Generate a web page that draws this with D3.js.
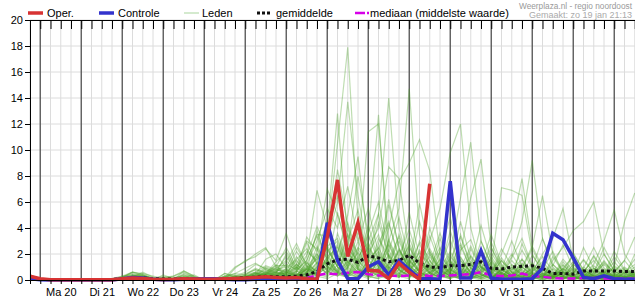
<!DOCTYPE html>
<html><head><meta charset="utf-8">
<script src="https://cdn.jsdelivr.net/npm/d3@7"></script>
<style>body{margin:0;background:#fff}svg{display:block}text{font-family:"Liberation Sans",Arial,sans-serif}</style>
</head><body>
<svg id="c" width="635" height="300"></svg>
<script>
// ---- data ----
const startTime = Date.UTC(2025, 0, 19, 18); // first value: zo 19 jan 18:00
const stepHours = 6;
const dayLabels = ["Ma 20","Di 21","Wo 22","Do 23","Vr 24","Za 25","Zo 26","Ma 27","Di 28","Wo 29","Do 30","Vr 31","Za 1","Zo 2"];
const yTicks = [0,2,4,6,8,10,12,14,16,18,20];
const legendLabels = ["Oper.","Controle","Leden","gemiddelde","mediaan (middelste waarde)"];
const sourceText = "Weerplaza.nl - regio noordoost";
const madeText = "Gemaakt: zo 19 jan 21:13";

const oper = [0.3,0.1,0.02,0.02,0.02, 0.02,0.02,0.02,0.02,0.1, 0.15,0.12,0.05,0.03,0.05, 0.1,0.08,0.05,0.05,0.1,
  0.12,0.15,0.2,0.25,0.2, 0.15,0.2,0.1,0.05,3.3, 7.7,1.8,4.4,0.75,0.7, 0.1,1.3,0.6,0.05,7.4];
const controle = [0.1,0.02,0,0,0, 0,0,0,0,0.1, 0.2,0.15,0.05,0.02,0.02, 0.05,0.08,0.1,0.1,0.05,
  0.02,0.02,0.05,0.05,0.1, 0.1,0.05,0.05,0.05,4.4, 1.5,0.1,0.1,1.0,1.4, 0.4,1.5,0.8,0.1,0.1,
  0.05,7.6,0.15,0.15,2.25, 0.15,0.05,0.05,0.05,0.1, 0.9,3.6,3.1,1.7,0.2, 0.1,0.33,0.1,0.05,0.05];
const gemiddelde = [0.15,0.05,0.03,0.03,0.03, 0.03,0.03,0.03,0.05,0.1, 0.15,0.15,0.1,0.08,0.08, 0.1,0.08,0.05,0.05,0.08,
  0.12,0.18,0.22,0.28,0.25, 0.25,0.3,0.4,0.65,1.25, 1.55,1.6,1.35,1.85,1.7, 1.4,1.5,1.9,1.3,1.0,
  0.95,1.1,1.1,1.2,1.4, 0.9,0.85,1.0,1.05,1.1, 0.9,0.5,0.5,0.45,0.7, 0.7,0.7,0.7,0.65,0.65];
const mediaan = [0.05,0.02,0.01,0.01,0.01, 0.01,0.01,0.01,0.01,0.03, 0.05,0.05,0.03,0.02,0.02, 0.03,0.02,0.01,0.01,0.02,
  0.03,0.04,0.05,0.06,0.06, 0.08,0.1,0.15,0.35,0.5, 0.45,0.55,0.62,0.45,0.35, 0.35,0.3,0.35,0.4,0.3,
  0.3,0.35,0.4,0.45,0.6, 0.35,0.3,0.35,0.5,0.3, 0.25,0.15,0.12,0.12,0.15, 0.15,0.12,0.1,0.12,0.1];
const leden = [
 [0.3,0,0,0,0, 0,0,0,0,0.1, 0.3,0.2,0,0,0, 0,0,0,0,0, 0,0.2,0.5,0.3,0.6, 1.2,0.8,1.5,3.5,3.4, 10.5,17.9,4.5,1.0,0.5, 2.0,0.8,0.3,0.5,1.2, 0.4,0.2,0.8,0.3,0.1, 0,0.5,1.5,0.6,0.2, 0,0.3,0.8,0.2,0, 0.1,0.6,0.3,0,0.2],
 [0.2,0,0,0,0, 0,0,0,0,0.1, 0.2,0.6,0.2,0,0, 0.1,0,0,0,0, 0,0.1,0.3,0.9,0.6, 0.5,1.0,2.2,1.5,3.0, 6.0,13.7,6.5,2.0,3.5, 1.0,0.4,2.5,1.2,0.6, 0.3,1.8,0.9,0.4,2.2, 0.5,0.2,0.8,1.6,0.4, 0.1,0.6,0.3,1.2,0.5, 0,0.2,0.7,0.2,0.1],
 [0.3,0,0,0,0, 0,0,0,0.1,0.3, 0.4,0.2,0,0.4,0.1, 0,0,0,0,0.1, 0.3,0.2,0.5,0.4,1.2, 0.2,0.6,1.8,6.9,4.0, 12.8,3.0,1.2,0.5,2.8, 4.5,1.5,0.6,0.2,1.0, 2.5,0.8,0.3,0.1,0.6, 1.4,0.5,0.2,0,0.4, 1.0,0.3,0.1,0,0.5, 1.8,0.6,0.2,0.4,1.0],
 [0.1,0,0,0,0, 0,0,0,0,0, 0.3,0.5,0.3,0.1,0, 0.7,0.3,0,0,0, 0.1,0.3,0.2,0.6,0.3, 0.3,0.1,0.5,1.2,2.5, 1.0,3.5,2.0,11.4,12.0, 3.0,1.2,0.5,3.0,1.5, 0.4,0.2,1.5,0.6,0.2, 0.1,0.8,2.0,0.7,0.3, 0,0.2,1.1,0.4,0.1, 0,0.3,0.9,0.3,0],
 [0.3,0.1,0,0,0, 0,0,0,0,0.2, 0.6,0.4,0,0,0.2, 0.3,0.1,0,0,0.5, 0.2,0,0.4,1.0,0.7, 0.8,0.4,1.0,2.0,0.6, 1.5,4.0,1.0,3.5,12.7, 1.5,0.8,2.0,0.6,0.3, 1.2,0.4,0.1,0.9,2.4, 0.7,0.2,0,0.5,1.3, 0.4,0.1,0.6,0.2,0, 0.4,1.5,0.5,0.1,0.3],
 [0,0,0,0,0, 0,0,0,0,0.1, 0.2,0.1,0,0,0, 0,0,0,0,0, 0,0.2,0.1,0.3,0.2, 0.1,0.5,0.2,1.0,2.2, 3.0,1.2,2.5,1.8,5.0, 14.0,4.0,1.0,0.5,2.0, 0.8,0.3,3.5,1.2,0.4, 0.1,0.3,1.0,0.4,0.2, 0.8,2.2,0.6,0.2,0, 0.5,0.2,0,0.6,1.2],
 [0.2,0,0,0,0, 0,0,0,0,0, 0.1,0.3,0.2,0,0, 0,0,0,0,0.2, 0.5,0.9,1.3,0.8,0.5, 0.4,0.2,0.9,0.5,1.5, 0.8,2.0,4.2,1.0,0.6, 3.0,5.5,14.7,3.5,1.0, 0.4,1.5,0.6,0.2,0.8, 2.5,1.0,0.3,0.1,0, 0.4,1.2,0.5,0.1,0.8, 0.3,0,0.2,0.9,0.4],
 [0.1,0,0,0,0, 0,0,0,0,0, 0.2,0.4,0.1,0,0, 0.2,0.1,0,0,0, 0,0,0.3,0.5,0.4, 0.2,0.7,0.3,1.4,0.8, 2.8,1.0,0.5,2.2,1.0, 4.0,7.6,9.0,10.8,8.4, 2.0,0.7,1.8,0.5,0.2, 0.9,0.3,0.1,1.6,0.6, 0.2,0,0.3,1.0,0.4, 0.1,0.5,1.4,0.5,0.2],
 [0.2,0,0,0,0, 0,0,0,0,0.1, 0.3,0.2,0.1,0.3,0.1, 0,0,0,0,0, 0.2,0.4,0.6,0.3,0.4, 0.6,0.3,1.1,0.4,1.8, 2.5,0.9,3.0,1.2,0.5, 0.8,2.2,0.6,1.0,3.0, 5.5,9.8,12.0,4.0,1.0, 0.4,1.5,0.6,0.2,1.0, 0.3,0.1,0.7,2.0,0.8, 0.3,0,0.4,0.2,0.6],
 [0,0,0,0,0, 0,0,0,0,0, 0.1,0,0,0,0, 0,0,0,0,0, 0.1,0,0.2,0.5,0.3, 0.3,1.2,0.5,2.6,1.0, 0.7,2.4,1.5,0.6,3.2, 1.8,0.5,1.2,2.8,1.0, 0.5,2.0,6.3,10.6,3.0, 1.2,0.4,0.1,0.9,2.4, 0.8,0.3,0.1,0.5,1.6, 0.6,0.2,0,0.3,0.8],
 [0.3,0,0,0,0, 0,0,0,0,0.2, 0.4,0.3,0,0.2,0, 0,0,0,0,0, 0,0.1,0,0.2,0.1, 0,0.4,0.2,1.0,2.0, 0.6,1.5,0.8,2.6,1.2, 0.4,1.0,3.3,1.0,0.5, 1.6,0.6,2.0,6.3,9.3, 2.5,0.8,0.3,0.1,1.2, 0.5,0.2,0.9,0.3,0, 0.6,2.0,0.7,0.2,0.1],
 [0.1,0,0,0,0, 0,0,0,0,0, 0.2,0.1,0,0,0.1, 0.4,0.2,0,0,0.3, 0.2,0.1,0.3,0.2,0.5, 0.5,0.2,0.6,1.3,0.4, 1.9,0.7,0.3,1.4,2.5, 0.9,0.3,0.8,1.6,0.5, 0.2,1.0,2.8,0.9,0.4, 0.1,0.6,1.8,4.5,9.2, 3.2,1.0,0.3,0.1,0.7, 1.5,0.5,0.2,0,0.4],
 [0.2,0,0,0,0, 0,0,0,0,0.1, 0.3,0.2,0,0,0, 0,0,0,0,0.1, 0.2,0.1,0.2,0.4,0.6, 0.2,0.9,0.3,0.6,1.6, 0.5,2.8,1.0,0.4,0.9, 2.3,0.8,0.3,0.6,1.8, 0.7,0.3,1.1,0.4,1.5, 0.5,2.0,4.0,7.8,2.5, 6.5,2.0,0.6,0.2,1.0, 0.4,0.1,0.6,1.5,0.5],
 [0,0,0,0,0, 0,0,0,0,0, 0.2,0.1,0,0,0, 0.5,0.2,0,0,0, 0,0,0.1,0.2,0.1, 0.1,0.3,0.8,0.3,1.1, 0.4,0.2,1.6,0.5,0.2, 1.0,0.4,2.0,0.7,0.3, 1.3,0.5,0.2,0.8,2.2, 1.0,7.1,6.9,6.5,2.0, 0.6,0.2,0.9,0.3,0.1, 0.5,1.2,0.4,0.1,0.2],
 [0.2,0,0,0,0, 0,0,0,0,0, 0.2,0.2,0,0,0, 0,0,0,0,0, 0,0.3,0.4,0.8,0.5, 0.7,0.3,1.4,0.5,0.2, 1.2,3.5,0.8,0.3,1.5, 0.6,2.4,0.9,0.3,0.6, 1.0,0.4,0.2,1.4,0.5, 0.1,0.8,0.3,1.0,0.4, 0.2,1.5,2.5,3.8,4.5, 6.0,2.0,0.7,0.3,0.1],
 [0.1,0,0,0,0, 0,0,0,0,0, 0,0.1,0,0,0, 0,0,0,0,0.3, 0.4,0.2,0.3,0.4,0.9, 0.3,0.1,0.5,1.8,0.7, 0.3,1.0,2.1,0.8,0.3, 1.3,0.5,0.2,0.9,2.2, 0.8,0.3,0.1,0.6,1.1, 0.4,0.2,1.2,0.5,0.2, 0.8,0.3,0.1,0.5,1.5, 0.6,2.5,1.0,4.5,6.7],
 [0,0,0,0,0, 0,0,0,0,0, 0.1,0.2,0,0,0, 0,0,0,0,0.1, 0.3,0.2,0.6,0.4,0.3, 0.9,0.4,0.2,0.8,2.4, 1.0,0.4,0.2,1.6,0.7, 0.3,1.1,0.5,1.8,0.6, 0.2,0.9,0.4,0.1,0.7, 1.6,0.5,0.2,0.1,0.6, 2.0,3.2,5.5,1.5,0.5, 1.2,3.0,5.4,2.0,0.8],
 [0.2,0,0,0,0, 0,0,0,0,0, 0.1,0,0,0,0, 0,0,0,0,0, 0.9,1.5,1.8,2.4,1.5, 3.6,1.2,0.6,2.0,1.0, 0.5,1.4,0.6,0.2,0.9, 0.4,1.7,0.6,0.2,0.5, 1.2,0.4,0.1,0.3,1.0, 0.4,0.1,0.5,0.2,0, 0.3,0.8,0.3,0.1,0.4, 0.2,0,0.1,0.5,0.2],
 [0.1,0,0,0,0, 0,0,0,0,0, 0,0,0,0.2,0.3, 0.6,0.2,0,0,0.2, 1.0,1.4,2.0,2.5,1.0, 0.6,2.2,1.0,0.4,1.8, 0.7,0.3,1.2,2.8,1.0, 0.4,0.2,1.5,0.6,0.2, 0.8,2.2,0.7,0.3,0.1, 0.6,0.3,0.9,0.3,0.1, 0.5,0.2,0,0.7,0.3, 0.1,0.4,0.2,0,0.3],
 [0.3,0,0,0,0, 0,0,0,0,0.2, 0.6,0.5,0.1,0,0, 0,0,0,0,0, 0,0.2,0.3,0.5,0.9, 1.5,0.6,2.9,1.2,0.5, 2.0,0.8,0.3,1.1,0.4, 2.7,1.0,0.4,0.2,0.9, 0.3,0.1,0.6,1.9,0.7, 0.3,0.1,0.4,1.2,0.5, 0.2,0,0.3,0.9,0.3, 0.1,0.5,0.2,0.7,0.3],
 [0,0,0,0,0, 0,0,0,0,0, 0.2,0.1,0,0.1,0.3, 0.7,0.3,0,0,0, 0.1,0.2,0.4,0.3,0.6, 0.4,1.8,0.7,3.8,1.4, 0.6,0.2,2.4,0.9,0.3, 1.2,3.0,1.1,0.4,0.2, 0.7,0.3,1.7,0.6,0.2, 1.0,0.4,0.1,0.3,0.9, 0.3,0.1,0.6,1.4,0.5, 0.2,0,0.4,0.1,0.5],
 [0.2,0,0,0,0, 0,0,0,0,0, 0.1,0,0,0,0, 0,0,0,0,0.5, 0.3,0.1,0.2,0.7,0.4, 0.8,0.3,1.3,0.6,3.2, 1.3,0.5,0.2,1.0,2.2, 0.8,0.3,1.6,0.6,0.2, 2.1,0.8,0.3,0.1,0.5, 1.3,0.5,0.2,0.8,0.3, 0.1,0.5,0.2,0,0.3, 0.9,0.4,0.1,0.2,0.6],
 [0,0,0,0,0, 0,0,0,0,0.1, 0.2,0.1,0,0,0, 0,0,0,0,0, 0.1,0,0.2,0.3,0.1, 0.2,0.7,0.3,1.1,0.5, 3.6,1.4,0.6,0.2,1.6, 0.7,0.3,0.1,1.3,0.5, 0.2,0.8,0.3,2.4,0.9, 0.3,0.1,0.6,0.2,0.7, 1.8,0.7,0.2,0.1,0.4, 0.2,0.8,0.3,0.1,0],
 [0.3,0,0,0,0, 0,0,0,0,0, 0.3,0.2,0,0,0, 0.2,0,0,0,0, 0,0.4,0.8,0.6,1.1, 1.1,0.5,0.2,0.9,2.7, 1.0,0.4,1.8,0.7,0.3, 0.1,1.2,0.5,2.3,0.8, 0.3,0.1,0.9,0.4,0.1, 0.6,1.7,0.6,0.2,0.1, 0.5,0.2,1.4,0.5,0.2, 0,0.3,1.0,0.4,0.1],
 [0.1,0,0,0,0, 0,0,0,0,0.3, 0.6,0.4,0.1,0,0, 0,0,0,0,0, 0,0,0.1,0.2,0.3, 0.5,0.2,0.8,0.3,1.3, 0.5,2.3,0.9,0.3,0.1, 1.9,0.7,0.3,0.9,0.3, 0.1,1.4,0.5,0.2,0, 0.4,0.2,1.0,0.4,0.1, 0.3,0.9,0.3,0.1,0.5, 0.2,0.6,0.2,0,0.1],
 [0,0,0,0,0, 0,0,0,0,0, 0,0,0,0,0, 0,0,0,0,0, 0,0,0.1,0.1,0.2, 0,0.4,0.2,0.6,0.3, 1.6,0.6,0.2,0.7,1.9, 0.7,0.2,0.6,0.3,1.1, 0.4,0.1,0.4,1.2,0.4, 0.1,0.9,0.3,0.1,0.4, 0.2,0.6,0.2,0,0.2, 0.7,0.3,0.1,0.3,0],
 [0.4,0.1,0,0,0, 0,0,0,0,0, 0.1,0.1,0,0,0, 0,0,0,0,0, 0,0.1,0.1,0.2,0.3, 0.6,0.3,0.1,0.5,0.9, 0.4,1.2,0.5,1.5,0.6, 0.2,0.8,0.3,0.1,0.6, 1.5,0.5,0.2,0.1,0.3, 0.8,0.3,0.1,0.5,0.2, 0,0.3,0.7,0.2,0.1, 0.3,0.1,0.5,0.2,0.1],
 [0,0,0,0,0, 0,0,0,0,0, 0.2,0,0,0,0, 0,0,0,0,0, 0,0,0,0.1,0.2, 0.3,1.0,0.4,0.2,0.7, 0.3,0.9,0.4,0.1,0.6, 0.3,1.3,0.5,0.2,0.1, 0.5,0.2,0.7,0.3,1.6, 0.6,0.2,0.1,0.4,0.8, 0.3,0.1,0.2,0.6,0.2, 0,0.1,0.3,0.8,0.3],
 [0.1,0,0,0,0, 0,0,0,0,0, 0,0,0,0,0, 0,0,0,0,0, 0,0,0,0,0.1, 0.2,0.1,0.6,0.3,0.1, 0.5,0.2,0.8,0.3,0.1, 0.5,0.2,0.9,0.4,0.1, 0.3,0.6,0.2,0.1,0.4, 0.2,0.6,0.2,0.1,0.3, 0.7,0.2,0.1,0.3,0.1, 0.4,0.2,0,0.2,0.4],
 [0.2,0,0,0,0, 0,0,0,0,0.1, 0.2,0.1,0,0,0, 0,0,0,0,0, 0.1,0.3,0.5,0.2,0.4, 0.4,0.2,0.9,0.4,1.5, 0.6,0.3,1.0,2.5,4.0, 8.7,7.8,2.0,0.6,0.2, 0.9,0.3,0.1,0.5,1.3, 0.5,0.2,0.7,0.3,0.1, 0.4,0.2,0.6,0.2,0.1, 0.3,0.7,0.2,0.1,0.3],
 [0,0,0,0,0, 0,0,0,0,0, 0.1,0.2,0,0,0, 0,0,0,0,0, 0.2,0.3,0.2,0.4,0.8, 1.0,2.5,1.2,3.0,5.5, 4.0,7.2,3.0,5.5,2.0, 1.0,3.5,1.2,0.4,1.5, 0.6,0.2,1.1,0.4,3.0, 1.1,0.4,0.1,0.6,0.3, 1.2,0.4,0.1,0.3,0.8, 0.3,0.1,0.4,1.0,0.4],
 [0.2,0,0,0,0, 0,0,0,0,0, 0.3,0.2,0,0,0, 0.3,0.1,0,0,0, 0,0.2,0.5,0.3,0.5, 2.0,0.8,3.3,2.2,7.0, 5.0,2.5,8.0,3.5,1.4, 5.8,2.5,0.8,4.5,2.0, 0.7,3.8,1.3,0.5,1.2, 3.5,1.2,0.4,0.2,0.6, 1.4,0.5,0.2,2.1,0.7, 0.3,0.1,1.1,0.5,1.6],
 [0.3,0,0,0,0, 0,0,0,0,0, 0.2,0.3,0.1,0,0, 0,0,0,0,0.2, 0.2,0.1,0.3,0.6,0.4, 0.6,0.3,0.9,1.6,3.0, 8.5,4.2,1.5,3.6,6.0, 2.2,4.8,1.5,0.6,4.0, 1.5,0.5,2.6,0.9,0.3, 1.8,0.6,0.2,2.8,1.0, 0.4,0.1,0.5,0.2,0.9, 2.5,0.9,0.3,0.1,0.5],
 [0,0,0,0,0, 0,0,0,0,0, 0.1,0,0,0,0, 0,0,0,0,0, 0,0.1,0.1,0.3,0.2, 0.5,1.5,0.6,2.2,4.5, 2.0,5.0,9.5,2.5,1.0, 2.8,1.0,5.2,1.8,0.6, 3.2,1.1,0.4,1.0,4.2, 1.5,0.5,0.2,1.0,0.4, 0.1,1.8,0.6,0.2,0.1, 0.8,0.3,0.1,0.2,2.0],
 [0.1,0,0,0,0, 0,0,0,0,0, 0,0.1,0,0,0, 0.1,0,0,0,0, 0.1,0.2,0.2,0.5,1.0, 2.5,1.0,0.5,1.8,3.8, 6.5,2.2,0.8,0.5,2.0, 6.2,2.4,0.8,1.5,0.5, 0.2,0.9,4.5,1.6,0.5, 0.2,0.8,3.0,1.0,0.3, 0.1,0.4,1.2,0.4,2.5, 0.9,0.3,0.1,0.6,0.2],
 [0.2,0,0,0,0, 0,0,0,0,0.1, 0.4,0.3,0.1,0,0, 0,0,0,0,0, 0.3,0.6,1.2,0.9,0.6, 1.4,2.8,1.1,0.7,2.6, 3.2,1.3,4.6,2.0,0.8, 3.1,1.4,2.6,0.9,3.4, 1.2,0.6,2.3,3.1,1.0, 0.5,2.4,1.1,0.4,1.9, 0.8,0.3,1.6,0.7,0.3, 1.1,0.5,2.2,0.8,0.4],
 [0,0,0,0,0, 0,0,0,0,0, 0.2,0.1,0,0,0, 0.2,0.4,0,0,0, 0,0.2,0.4,1.6,2.0, 0.9,1.6,2.4,1.3,3.6, 2.1,4.4,1.8,2.9,5.1, 1.6,3.3,0.9,2.1,1.2, 3.6,1.4,0.5,1.8,0.7, 2.9,1.1,0.4,1.3,0.6, 0.2,1.1,2.7,0.9,0.3, 0.6,1.4,0.5,0.2,0.7],
 [0.3,0.1,0,0,0, 0,0,0,0,0, 0.1,0.2,0,0,0.1, 0,0,0,0,0.3, 0.5,0.4,0.9,0.5,1.4, 2.2,0.9,1.9,4.1,2.3, 1.1,3.0,5.4,1.6,2.4, 4.3,1.8,3.9,1.3,0.8, 2.2,4.8,1.5,0.6,2.0, 0.9,0.4,1.7,3.2,1.1, 0.5,0.2,0.9,1.8,0.6, 0.3,1.3,0.6,1.5,3.3],
 [0.1,0,0,0,0, 0,0,0,0,0.2, 0.5,0.3,0.1,0,0, 0.4,0.1,0,0,0, 0.1,0.3,0.6,1.1,0.8, 0.6,1.2,3.0,2.4,1.1, 5.2,2.0,1.3,4.2,1.5, 0.9,2.3,1.0,5.9,2.2, 0.8,1.6,3.3,1.2,0.5, 2.1,0.8,0.3,1.0,2.6, 1.0,0.4,0.2,1.2,0.5, 1.9,0.7,0.3,0.1,0.5],
 [0,0,0,0,0, 0,0,0,0,0, 0.1,0.1,0,0,0, 0,0,0,0,0.1, 0.2,0.5,0.8,0.4,0.7, 1.8,0.7,1.5,3.4,1.6, 2.6,1.0,3.7,1.5,4.4, 1.9,0.8,2.8,1.1,2.4, 1.0,3.1,0.9,2.6,1.0, 0.4,1.5,0.6,2.3,0.9, 3.2,1.2,0.4,0.8,0.3, 0.9,0.4,1.8,0.7,0.3]
];

// ---- chart ----
const W = 635, H = 300;
const M = {left: 30, top: 20, bottom: 280};
const HOUR = 3600e3;
const nSteps = 59;
const endTime = startTime + nSteps * stepHours * HOUR;
const tAt = i => new Date(startTime + i * stepHours * HOUR);

const x = d3.scaleUtc().domain([new Date(startTime), new Date(endTime)]).range([M.left, M.left + nSteps * 10.25]);
const y = d3.scaleLinear().domain([0, 20]).range([M.bottom, M.top]);

const svg = d3.select("#c");
svg.append("defs").append("clipPath").attr("id", "clip")
  .append("rect").attr("x", M.left).attr("y", M.top).attr("width", W - M.left).attr("height", M.bottom - M.top + 3);

const sixH = d3.utcHour.every(6).range(new Date(startTime), new Date(endTime + 1));
const days = d3.utcDay.range(new Date(startTime), new Date(endTime + 1));

// light grid
const grid = svg.append("g");
grid.selectAll("line.v").data(sixH).join("line")
  .attr("x1", d => x(d)).attr("x2", d => x(d)).attr("y1", M.top).attr("y2", M.bottom)
  .attr("stroke", "#dcdcdc").attr("stroke-width", 1);
grid.selectAll("line.h").data(yTicks.slice(1)).join("line")
  .attr("x1", M.left).attr("x2", W).attr("y1", d => y(d)).attr("y2", d => y(d))
  .attr("stroke", "#dcdcdc").attr("stroke-width", 1);
// day lines
grid.selectAll("line.d").data(days).join("line")
  .attr("x1", d => x(d)).attr("x2", d => x(d)).attr("y1", M.top).attr("y2", M.bottom)
  .attr("stroke", "#555").attr("stroke-width", 1.3);

const line = d3.line().defined(d => d != null).x((d, i) => x(tAt(i))).y(d => y(d));
const plot = svg.append("g").attr("clip-path", "url(#clip)");

plot.selectAll("path.m").data(leden).join("path")
  .attr("d", line).attr("fill", "none")
  .attr("stroke", "rgb(75,160,40)").attr("stroke-opacity", 0.36).attr("stroke-width", 1.2);

plot.append("path").datum(mediaan).attr("d", line).attr("fill", "none")
  .attr("stroke", "#d600e8").attr("stroke-width", 2.5).attr("stroke-dasharray", "8,4");
plot.append("path").datum(gemiddelde).attr("d", line).attr("fill", "none")
  .attr("stroke", "#111").attr("stroke-width", 3).attr("stroke-dasharray", "3,3");
plot.append("path").datum(controle).attr("d", line).attr("fill", "none")
  .attr("stroke", "#3333cc").attr("stroke-width", 3.5).attr("stroke-linejoin", "miter");
plot.append("path").datum(oper).attr("d", line).attr("fill", "none")
  .attr("stroke", "#d73333").attr("stroke-width", 3.5).attr("stroke-linejoin", "miter");

// axes
const font = '"Liberation Sans", Arial, sans-serif';
const yAxis = svg.append("g").attr("transform", `translate(${M.left},0)`)
  .call(d3.axisLeft(y).tickValues(yTicks).tickSize(5).tickPadding(2).tickSizeOuter(0));
yAxis.selectAll("text").attr("font-size", 11).attr("font-family", font).attr("fill", "#000");
yAxis.selectAll("line,path").attr("stroke", "#000");

const topAxis = svg.append("g").attr("transform", `translate(0,${M.top})`)
  .call(d3.axisBottom(x).tickValues(sixH).tickSize(9).tickFormat("").tickSizeOuter(0));
topAxis.selectAll("line,path").attr("stroke", "#000");
topAxis.select("path").attr("d", `M${M.left},0.5H${W}`);

const botAxis = svg.append("g").attr("transform", `translate(0,${M.bottom})`)
  .call(d3.axisBottom(x).tickValues(sixH).tickSize(4).tickFormat("").tickSizeOuter(0));
botAxis.selectAll("line,path").attr("stroke", "#000");
botAxis.select("path").attr("d", `M${M.left},0.5H${W}`);

const noons = dayLabels.map((l, k) => new Date(Date.UTC(2025, 0, 20 + k, 12)));
const lblAxis = svg.append("g").attr("transform", `translate(0,${M.bottom})`)
  .call(d3.axisBottom(x).tickValues(noons).tickSize(0).tickPadding(8).tickFormat((d, i) => dayLabels[i]));
lblAxis.select("path").remove();
lblAxis.selectAll("text").attr("font-size", 11).attr("font-family", font).attr("fill", "#000");

// legend
const lg = svg.append("g");
const items = [
  {x: 28, tx: 47, color: "#d73333", w: 3.5, dash: null},
  {x: 99, tx: 118, color: "#3333cc", w: 3.5, dash: null},
  {x: 184, tx: 202, color: "#b8dcae", w: 1.2, dash: null},
  {x: 257, tx: 276, color: "#111", w: 3, dash: "3,2"},
  {x: 355, tx: 370, color: "#d600e8", w: 2.5, dash: "10,2,2,2"}
];
items.forEach((it, i) => {
  lg.append("line").attr("x1", it.x).attr("x2", it.x + 15).attr("y1", 13).attr("y2", 13)
    .attr("stroke", it.color).attr("stroke-width", it.w).attr("stroke-dasharray", it.dash);
  lg.append("text").attr("x", it.tx).attr("y", 17).attr("font-size", 11).attr("font-family", font)
    .attr("fill", "#000").text(legendLabels[i]);
});
svg.append("text").attr("x", 632).attr("y", 9).attr("text-anchor", "end").attr("font-size", 8.5)
  .attr("font-family", font).attr("fill", "#999").attr("textLength", 113).attr("lengthAdjust", "spacingAndGlyphs").text(sourceText);
svg.append("text").attr("x", 632).attr("y", 18).attr("text-anchor", "end").attr("font-size", 9)
  .attr("font-family", font).attr("fill", "#aaa").text(madeText);
</script>
</body></html>
